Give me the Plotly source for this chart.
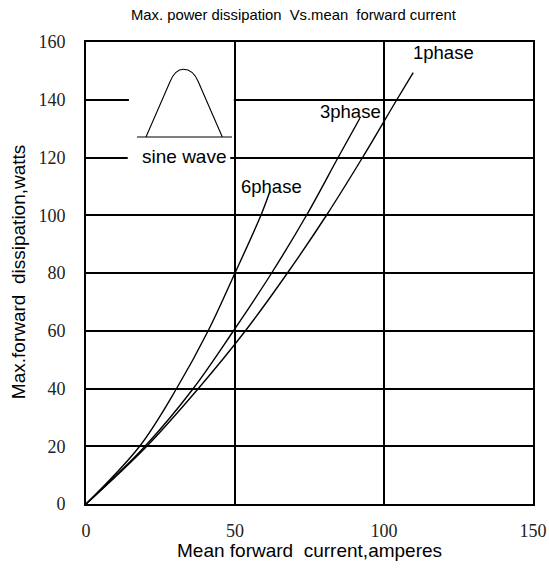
import plotly.graph_objects as go

# Data
x_6phase = [0, 18.0, 30.4, 41.0, 50.0, 58.7, 61.7]
y_6phase = [0, 20, 40, 60, 80, 100, 108.2]

x_3phase = [0, 19.8, 36.0, 49.5, 62.3, 74.0, 84.6, 91.9]
y_3phase = [0, 20, 40, 60, 80, 100, 120, 133.6]

x_1phase = [0, 20.4, 37.7, 53.5, 67.6, 80.7, 92.8, 104.3, 109.8]
y_1phase = [0, 20, 40, 60, 80, 100, 120, 140, 149.4]

x_ticks = [0, 50, 100, 150]
y_ticks = [0, 20, 40, 60, 80, 100, 120, 140, 160]

labels = ["6phase", "3phase", "1phase"]
label_x = [62.2, 88.6, 120.1]
label_y = [110.0, 136.1, 156.2]

SANS = "Liberation Sans, Arial, sans-serif"
NARROW = "Liberation Sans Narrow, Arial Narrow, Liberation Sans, sans-serif"
SERIF = "Liberation Serif, Times New Roman, serif"

fig = go.Figure()
for xs, ys in [(x_6phase, y_6phase), (x_3phase, y_3phase), (x_1phase, y_1phase)]:
    fig.add_trace(go.Scatter(x=xs, y=ys, mode="lines",
                             line=dict(color="black", width=1.4, shape="spline", smoothing=1.0),
                             hoverinfo="skip", showlegend=False))

# white box masking gridlines behind the inset
fig.add_shape(type="rect", x0=14.4, x1=49.6, y0=133, y1=146, layer="between",
              fillcolor="white", line=dict(width=0))
fig.add_shape(type="rect", x0=14.0, x1=48.4, y0=114, y1=133, layer="between",
              fillcolor="white", line=dict(width=0))
# sine wave icon
fig.add_shape(type="path",
              path="M 20.13,127.1 L 28.19,146.25 C 29.5,149.4 31.0,150.55 32.65,150.55 "
                   "C 34.3,150.55 36.4,149.4 37.68,146.25 L 45.74,127.1",
              line=dict(color="black", width=1.1), layer="above")
fig.add_shape(type="line", x0=17.1, x1=49.0, y0=127.1, y1=127.1,
              line=dict(color="black", width=1.1), layer="above")

fig.add_annotation(x=33.2, y=120.5, text="sine wave", showarrow=False,
                   font=dict(family=SANS, size=19, color="black"))

for t, lx, ly in zip(labels, label_x, label_y):
    fig.add_annotation(x=lx, y=ly, text=t, showarrow=False,
                       font=dict(family=SANS, size=18.5, color="black"))

# titles
fig.add_annotation(xref="paper", yref="paper", x=0.465, y=1.058,
                   xanchor="center", yanchor="middle",
                   text="Max. power dissipation&nbsp; Vs.mean&nbsp; forward current",
                   showarrow=False, font=dict(family=NARROW, size=14.8, color="black"))
fig.add_annotation(xref="paper", yref="paper", x=0.501, y=-0.0996,
                   xanchor="center", yanchor="middle",
                   text="Mean forward&nbsp; current,amperes", showarrow=False,
                   font=dict(family=SANS, size=19, color="black"))
fig.add_annotation(xref="paper", yref="paper", x=-0.152, y=0.502, textangle=-90,
                   xanchor="center", yanchor="middle",
                   text="Max.forward&nbsp; dissipation,watts", showarrow=False,
                   font=dict(family=SANS, size=19, color="black"))

fig.update_layout(
    width=549, height=569,
    margin=dict(l=86, r=16, t=42, b=65, autoexpand=False),
    paper_bgcolor="white", plot_bgcolor="white",
    showlegend=False,
)
fig.update_xaxes(range=[0, 150], tickvals=x_ticks, ticktext=[str(v) for v in x_ticks],
                 showgrid=True, gridcolor="black", gridwidth=1.5,
                 showline=True, linecolor="black", linewidth=1.8, mirror=True,
                 zeroline=False, ticks="", ticklabelstandoff=9, automargin=False,
                 tickfont=dict(family=SERIF, size=18, color="#222"))
fig.update_yaxes(range=[0, 160], tickvals=y_ticks, ticktext=[str(v) for v in y_ticks],
                 showgrid=True, gridcolor="black", gridwidth=1.5,
                 showline=True, linecolor="black", linewidth=1.8, mirror=True,
                 zeroline=False, ticks="", ticklabelstandoff=15, automargin=False,
                 tickfont=dict(family=SERIF, size=18, color="#222"))

fig.write_html("out.html", config={"displayModeBar": False},
               post_script="document.body.style.margin='0';")
